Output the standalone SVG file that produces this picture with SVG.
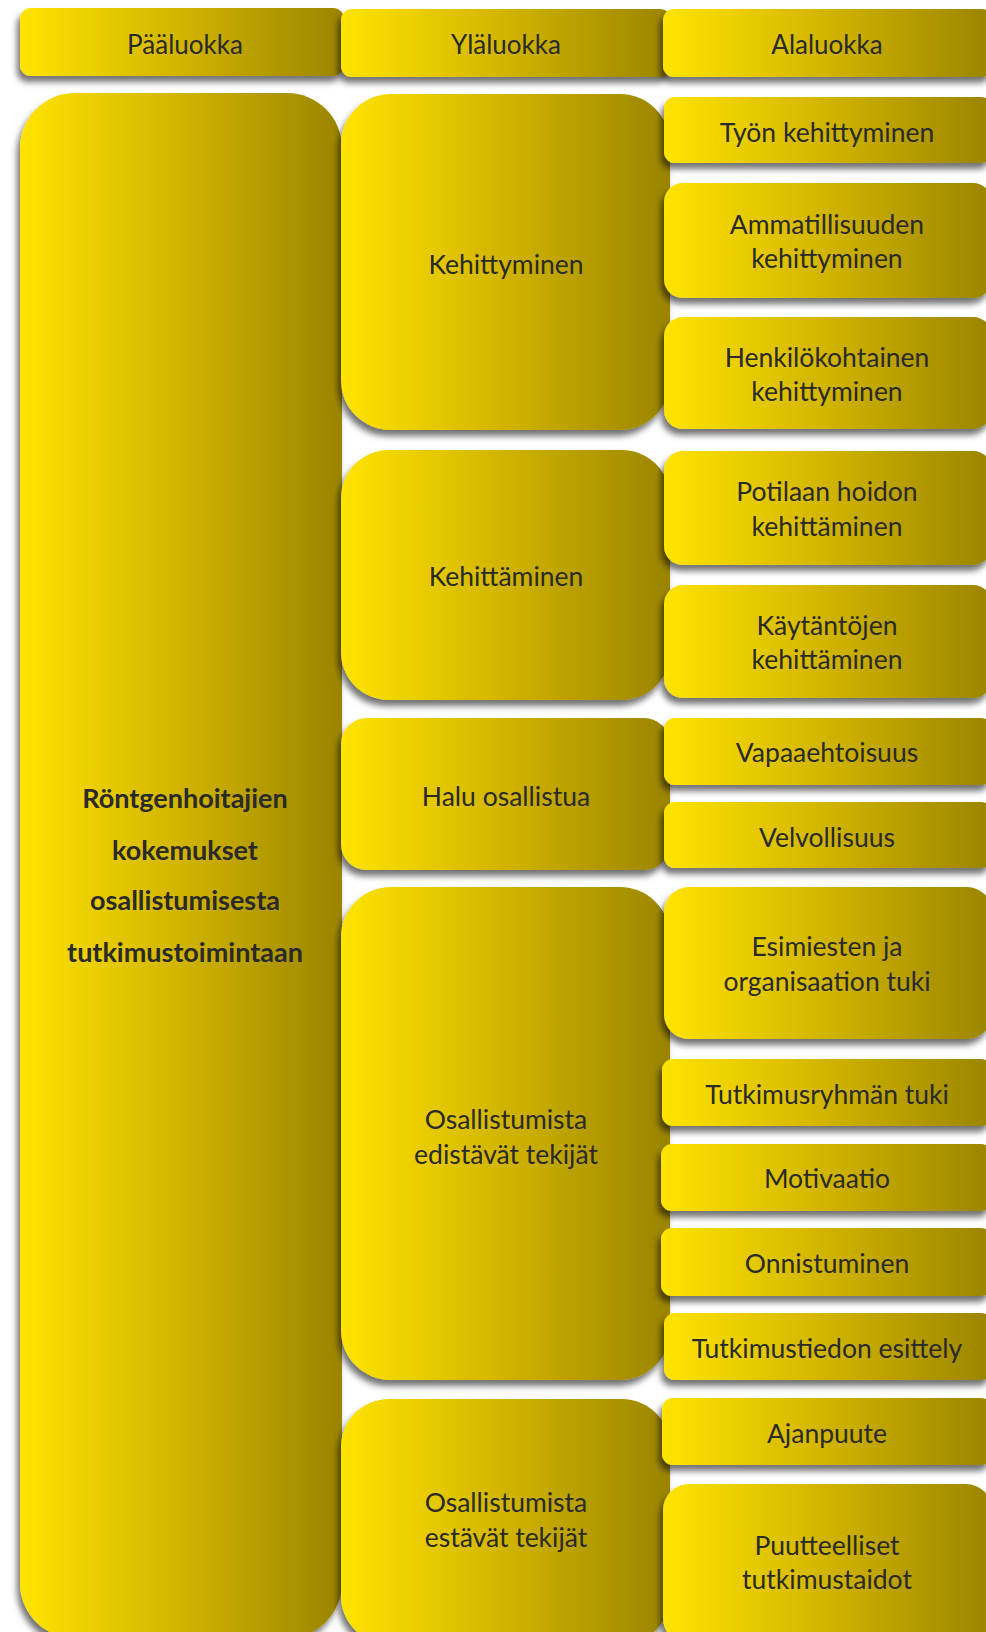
<svg xmlns="http://www.w3.org/2000/svg" width="986" height="1632" viewBox="0 0 986 1632">
<defs>
<linearGradient id="g" x1="0" y1="0" x2="1" y2="0">
<stop offset="0" stop-color="#FFE400"/>
<stop offset="0.5" stop-color="#D1B400"/>
<stop offset="1" stop-color="#9A8400"/>
</linearGradient>
<filter id="sh" x="-20%" y="-20%" width="140%" height="140%">
<feDropShadow dx="-3" dy="6" stdDeviation="3" flood-color="#000" flood-opacity="0.55"/>
</filter>
<style>
.b{fill:url(#g);filter:url(#sh)}
.t{font-family:Lato,"Open Sans",sans-serif;font-size:26.5px;fill:#2a2a2a;text-anchor:middle;dominant-baseline:central}
.h{font-size:26px}
.m{font-weight:bold;font-size:27px}
</style>
</defs>
<rect width="986" height="1632" fill="#fff"/>
<g id="head-paa"><rect class="b" x="20" y="8" width="324" height="68" rx="11"/><text class="t h" x="185" y="44">Pääluokka</text></g>
<g id="head-yla"><rect class="b" x="341" y="9" width="330" height="68" rx="11"/><text class="t h" x="506" y="44">Yläluokka</text></g>
<g id="head-ala"><rect class="b" x="663" y="9" width="330" height="68" rx="11"/><text class="t h" x="827" y="44">Alaluokka</text></g>

<g id="paa"><rect class="b" x="20" y="93" width="322" height="1545" rx="55"/>
<text class="t m" x="185" y="797">Röntgenhoitajien</text>
<text class="t m" x="185" y="849">kokemukset</text>
<text class="t m" x="185" y="899">osallistumisesta</text>
<text class="t m" x="185" y="951">tutkimustoimintaan</text></g>

<g id="yla1"><rect class="b" x="341" y="94" width="329" height="336" rx="50"/><text class="t" x="506" y="264">Kehittyminen</text></g>
<g id="yla2"><rect class="b" x="341" y="450" width="329" height="250" rx="48"/><text class="t" x="506" y="576">Kehittäminen</text></g>
<g id="yla3"><rect class="b" x="341" y="718" width="329" height="152" rx="26"/><text class="t" x="506" y="796">Halu osallistua</text></g>
<g id="yla4"><rect class="b" x="341" y="887" width="329" height="493" rx="50"/><text class="t" x="506" y="1119">Osallistumista</text><text class="t" x="506" y="1154">edistävät tekijät</text></g>
<g id="yla5"><rect class="b" x="341" y="1399" width="329" height="245" rx="48"/><text class="t" x="506" y="1502">Osallistumista</text><text class="t" x="506" y="1537">estävät tekijät</text></g>

<g id="ala1"><rect class="b" x="664" y="97" width="328" height="66" rx="11"/><text class="t" x="827" y="132">Työn kehittyminen</text></g>
<g id="ala2"><rect class="b" x="664" y="183" width="328" height="115" rx="19"/><text class="t" x="827" y="224">Ammatillisuuden</text><text class="t" x="827" y="258">kehittyminen</text></g>
<g id="ala3"><rect class="b" x="664" y="317" width="328" height="112" rx="19"/><text class="t" x="827" y="357">Henkilökohtainen</text><text class="t" x="827" y="391">kehittyminen</text></g>
<g id="ala4"><rect class="b" x="664" y="451" width="328" height="114" rx="19"/><text class="t" x="827" y="491">Potilaan hoidon</text><text class="t" x="827" y="526">kehittäminen</text></g>
<g id="ala5"><rect class="b" x="664" y="585" width="328" height="113" rx="19"/><text class="t" x="827" y="625">Käytäntöjen</text><text class="t" x="827" y="659">kehittäminen</text></g>
<g id="ala6"><rect class="b" x="664" y="718" width="328" height="67" rx="11"/><text class="t" x="827" y="752">Vapaaehtoisuus</text></g>
<g id="ala7"><rect class="b" x="664" y="802" width="328" height="66" rx="11"/><text class="t" x="827" y="837">Velvollisuus</text></g>
<g id="ala8"><rect class="b" x="664" y="887" width="328" height="152" rx="25"/><text class="t" x="827" y="946">Esimiesten ja</text><text class="t" x="827" y="981">organisaation tuki</text></g>
<g id="ala9"><rect class="b" x="662" y="1059" width="330" height="67" rx="11"/><text class="t" x="827" y="1094">Tutkimusryhmän tuki</text></g>
<g id="ala10"><rect class="b" x="661" y="1144" width="331" height="67" rx="11"/><text class="t" x="827" y="1178">Motivaatio</text></g>
<g id="ala11"><rect class="b" x="661" y="1228" width="331" height="68" rx="11"/><text class="t" x="827" y="1263">Onnistuminen</text></g>
<g id="ala12"><rect class="b" x="664" y="1313" width="328" height="67" rx="11"/><text class="t" x="827" y="1348">Tutkimustiedon esittely</text></g>
<g id="ala13"><rect class="b" x="662" y="1398" width="330" height="67" rx="11"/><text class="t" x="827" y="1433">Ajanpuute</text></g>
<g id="ala14"><rect class="b" x="663" y="1484" width="329" height="160" rx="26"/><text class="t" x="827" y="1545">Puutteelliset</text><text class="t" x="827" y="1579">tutkimustaidot</text></g>
<g id="connectors"></g>
</svg>
